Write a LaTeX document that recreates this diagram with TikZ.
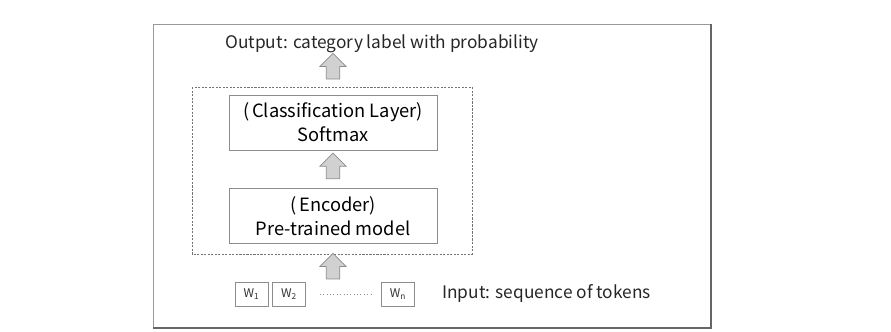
\documentclass[tikz,border=0pt]{standalone}
\usepackage{fontspec}
\setmainfont{Noto Sans CJK JP}
\usetikzlibrary{shapes.arrows,positioning,calc}

\tikzset{
  layerbox/.style={draw=black!45, line width=0.6pt, minimum width=5.2cm, minimum height=1.375cm,
    align=center, font=\fontsize{13}{17}\selectfont},
  tokenbox/.style={draw=black!45, line width=0.6pt, minimum width=0.825cm, minimum height=0.6cm,
    inner sep=0pt, font=\fontsize{8.5}{10}\selectfont, text=black!80},
  blockarrow/.style={single arrow, rotate=90, draw=black!45, fill=black!18, line width=0.5pt,
    minimum height=0.64cm, inner sep=0.16cm, single arrow head extend=0.16cm},
  plaintext/.style={font=\fontsize{12.3}{15}\selectfont, text=black!85, inner sep=0pt}
}

\begin{document}
\begin{tikzpicture}

\useasboundingbox (0,0) rectangle (22.275,-8.275);

% ================= FRAME =================
\draw[black!40, line width=0.6pt] (3.825,-0.6) rectangle (17.775,-8.2);
\draw[black!60, line width=1.6pt] (17.775,-0.6) -- (17.775,-8.2) -- (3.825,-8.2);

% ================= MODEL =================
\draw[black!55, dash pattern=on 1.5pt off 1pt, line width=0.5pt] (4.8,-2.175) rectangle (11.8,-6.35);

\node[layerbox] (cls) at (8.325,-3.0625) {(\,Classification Layer)\\Softmax};
\node[layerbox] (enc) at (8.325,-5.4) {(\,Encoder)\\Pre-trained model};

% ================= OUTPUT =================
\node[plaintext, anchor=west] (out) at (5.625,-1.1) {Output: category label with probability};

% ================= INPUT TOKENS =================
\node[tokenbox] (w1) at (6.29,-7.35) {W\textsubscript{1}};
\node[tokenbox] (w2) at (7.225,-7.35) {W\textsubscript{2}};
\node[tokenbox] (wn) at (9.95,-7.35) {W\textsubscript{n}};
\draw[black!45, dotted, line width=0.4pt, shorten <=0.35cm, shorten >=0.25cm] (w2.east) -- (wn.west);

\node[plaintext, anchor=west] (in) at (11.05,-7.33) {Input: sequence of tokens};

% ================= BLOCK ARROWS =================
\node[blockarrow] (a1) at ($(enc.south)+(0,-0.64)$) {};
\node[blockarrow] (a2) at ($(enc.north)!0.5!(cls.south)$) {};
\node[blockarrow] (a3) at ($(cls.north)+(0,0.625)$) {};

\end{tikzpicture}
\end{document}
